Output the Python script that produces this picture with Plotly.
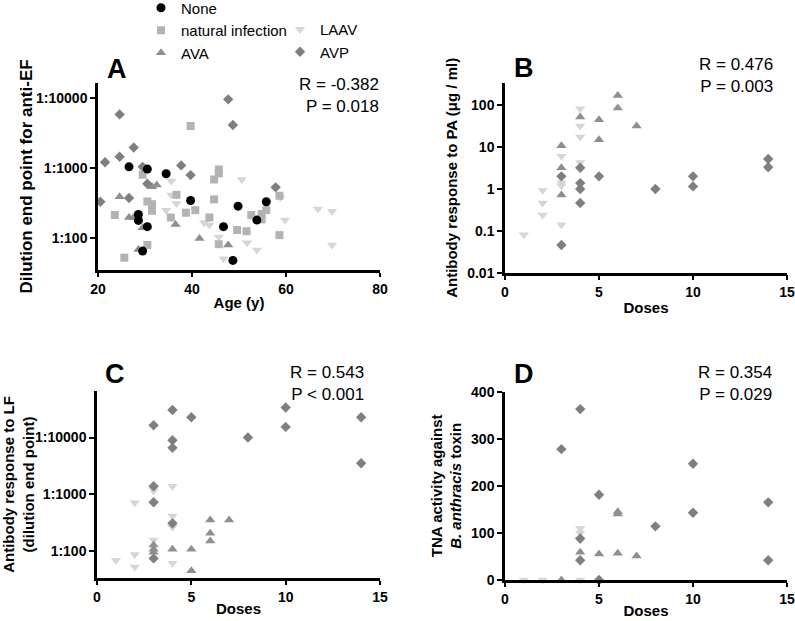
import plotly.graph_objects as go

# ---------------- DATA ----------------
groups = ["None", "natural infection", "AVA", "LAAV", "AVP"]

# Panel A: age (y) vs dilution end point for anti-EF
A_none_age = [26.6, 30.5, 34.5, 39.7, 49.8, 55.8, 28.6, 28.6, 30.5, 46.7, 53.8, 29.5, 48.7]
A_none_ef = [1030, 957, 820, 341, 283, 327, 215, 177, 144, 144, 179, 64.5, 47.5]
A_nat_age = [39.7, 45.7, 45.7, 44.7, 29.5, 36.7, 58.6, 44.7, 30.5, 31.5, 31.5, 40.7, 38.7,
             23.6, 35.5, 43.7, 52.6, 54.8, 54.8, 55.8, 49.6, 51.6, 58.6, 45.7, 30.5, 25.6]
A_nat_ef = [3940, 946, 830, 681, 794, 411, 398, 353, 330, 302, 243, 248, 228,
            211, 195, 195, 211, 218, 183, 248, 129, 124, 109, 81, 79, 52]
A_ava_age = [24.6, 31.5, 32.5, 26.6, 27.6, 29.5, 36.5, 41.6, 47.7, 28.6]
A_ava_ef = [385, 535, 565, 195, 195, 139, 155, 98, 79, 68]
A_laav_age = [35.6, 35.6, 36.7, 34.5, 42.6, 43.7, 45.7, 46.7, 50.6, 58.8, 59.8, 51.7, 53.8, 66.8, 69.8, 69.8]
A_laav_ef = [646, 407, 309, 248, 164, 152, 103, 50, 681, 377, 179, 85, 67, 257, 240, 79]
A_avp_age = [47.7, 24.6, 48.7, 27.6, 24.6, 21.5, 29.5, 37.7, 39.7, 30.5, 57.8, 26.6, 20.5]
A_avp_ef = [9470, 5780, 4070, 1950, 1435, 1200, 1030, 1080, 785, 590, 525, 369, 327]

# Panel B: doses vs antibody response to PA (ug/ml)
B_laav_dose = [1, 2, 2, 2, 3, 3, 3, 3, 4, 4, 4, 4]
B_laav_pa = [0.081, 0.92, 0.46, 0.24, 6.0, 1.4, 1.2, 0.14, 82, 32, 17.5, 4.3]
B_ava_dose = [3, 3, 3, 4, 5, 5, 6, 6, 7]
B_ava_pa = [10.8, 3.2, 0.72, 52, 45, 15, 170, 86, 32]
B_avp_dose = [3, 3, 4, 4, 4, 4, 5, 8, 10, 10, 14, 14]
B_avp_pa = [2.0, 0.046, 3.2, 1.38, 1.0, 0.46, 2.0, 1.0, 2.0, 1.15, 5.2, 3.3]

# Panel C: doses vs antibody response to LF (dilution end point)
C_laav_dose = [1, 2, 2, 2, 3, 4, 4, 4, 4, 3]
C_laav_lf = [69, 87, 52, 710, 156, 414, 262, 61, 1380, 1150]
C_ava_dose = [6, 7, 6, 6, 3, 3, 3, 4, 5, 5]
C_ava_lf = [352, 352, 205, 150, 128, 107, 95, 107, 107, 45]
C_avp_dose = [4, 3, 5, 8, 10, 10, 14, 14, 4, 4, 3, 3, 4, 3]
C_avp_lf = [30500, 16500, 22700, 10000, 33800, 15400, 22700, 3520, 8970, 6580, 1380, 723, 308, 74]

# Panel D: doses vs TNA activity
D_laav_dose = [4, 4, 4, 1, 2, 4]
D_laav_tna = [110, 100, 85, 0, 0, 0]
D_ava_dose = [6, 6, 4, 5, 6, 7, 3]
D_ava_tna = [140, 145, 59, 55, 57, 51, 0]
D_avp_dose = [4, 3, 5, 10, 10, 14, 14, 8, 4, 4, 5]
D_avp_tna = [363, 278, 181, 247, 143, 165, 42, 114, 42, 88, 0]

stats = {"A": "R = -0.382<br>P = 0.018", "B": "R = 0.476<br>P = 0.003",
         "C": "R = 0.543<br>P < 0.001", "D": "R = 0.354<br>P = 0.029"}
log_ticks = [100, 1000, 10000]
log_ticktext = ["1:100", "1:1000", "1:10000"]
pa_ticks = [0.01, 0.1, 1, 10, 100]
pa_ticktext = ["0.01", "0.1", "1", "10", "100"]

# ---------------- STYLE ----------------
style = {
    "None": dict(symbol="circle", color="#000000", size=9, rank=1),
    "natural infection": dict(symbol="square", color="#b3b3b3", size=8, rank=2),
    "AVA": dict(symbol="triangle-up", color="#8f8f8f", size=9, rank=3),
    "LAAV": dict(symbol="triangle-down", color="#d6d6d6", size=9, rank=1),
    "AVP": dict(symbol="diamond", color="#7f7f7f", size=8, rank=2),
}
FONT = "Arial, Liberation Sans, sans-serif"
W, H = 795, 621

fig = go.Figure()


def add(name, x, y, xa, ya, legend=None):
    s = style[name]
    fig.add_trace(go.Scatter(
        x=x, y=y, mode="markers", name=name, xaxis=xa, yaxis=ya,
        marker=dict(symbol=s["symbol"], color=s["color"], size=s["size"], line=dict(width=0)),
        showlegend=legend is not None, legend=legend or "legend", legendrank=s["rank"],
        cliponaxis=False,
    ))


# draw order: lighter first so darker symbols on top
add("LAAV", A_laav_age, A_laav_ef, "x", "y", "legend2")
add("natural infection", A_nat_age, A_nat_ef, "x", "y", "legend")
add("AVA", A_ava_age, A_ava_ef, "x", "y", "legend")
add("AVP", A_avp_age, A_avp_ef, "x", "y", "legend2")
add("None", A_none_age, A_none_ef, "x", "y", "legend")

add("LAAV", B_laav_dose, B_laav_pa, "x2", "y2")
add("AVA", B_ava_dose, B_ava_pa, "x2", "y2")
add("AVP", B_avp_dose, B_avp_pa, "x2", "y2")

add("LAAV", C_laav_dose, C_laav_lf, "x3", "y3")
add("AVA", C_ava_dose, C_ava_lf, "x3", "y3")
add("AVP", C_avp_dose, C_avp_lf, "x3", "y3")

add("LAAV", D_laav_dose, D_laav_tna, "x4", "y4")
add("AVA", D_ava_dose, D_ava_tna, "x4", "y4")
add("AVP", D_avp_dose, D_avp_tna, "x4", "y4")


def px_x(p):
    return p / W


def px_y(p):
    return 1 - p / H


axis_common = dict(showline=True, linecolor="black", linewidth=2.5, ticks="outside",
                   ticklen=5, tickwidth=2, tickcolor="black", showgrid=False, zeroline=False,
                   ticklabeloverflow="allow",
                   tickfont=dict(family=FONT, size=14, color="black", weight="bold"),
                   title_font=dict(family=FONT, size=15, color="black", weight="bold"))

fig.update_layout(
    width=W, height=H, margin=dict(l=0, r=0, t=0, b=0, autoexpand=False),
    plot_bgcolor="white", paper_bgcolor="white",
    font=dict(family=FONT, color="black"),
    xaxis=dict(axis_common, domain=[px_x(98), px_x(380)], range=[20, 80], dtick=20,
               anchor="y", ticklen=4, title=dict(text="Age (y)", standoff=2)),
    yaxis=dict(axis_common, domain=[px_y(270), px_y(83)], type="log", range=[1.54, 4.21],
               tickvals=log_ticks, ticktext=log_ticktext, anchor="x",
               title=dict(text="Dilution end point for anti-EF", standoff=0,
                          font=dict(size=17))),
    xaxis2=dict(axis_common, domain=[px_x(505), px_x(787)], range=[0, 15], dtick=5,
                anchor="y2", title=dict(text="Doses", standoff=4)),
    yaxis2=dict(axis_common, domain=[px_y(272.7), px_y(83)], type="log", range=[-2, 2.53],
                tickvals=pa_ticks, ticktext=pa_ticktext, anchor="x2",
                title=dict(text="Antibody response to PA (μg / ml)", standoff=6)),
    xaxis3=dict(axis_common, domain=[px_x(97), px_x(380)], range=[0, 15], dtick=5,
                anchor="y3", ticklen=4, title=dict(text="Doses", standoff=0)),
    yaxis3=dict(axis_common, domain=[px_y(578), px_y(391)], type="log", range=[1.524, 4.82],
                tickvals=log_ticks, ticktext=log_ticktext, anchor="x3",
                title=dict(text="Antibody response to LF<br>(dilution end point)", standoff=0)),
    xaxis4=dict(axis_common, domain=[px_x(505), px_x(787)], range=[0, 15], dtick=5,
                anchor="y4", ticklen=4, title=dict(text="Doses", standoff=0)),
    yaxis4=dict(axis_common, domain=[px_y(580), px_y(391.7)], range=[0, 400], dtick=100,
                anchor="x4",
                title=dict(text="TNA activity against<br><i>B. anthracis</i> toxin", standoff=6)),
    legend=dict(x=px_x(141), y=1.0137, xanchor="left", yanchor="top", bgcolor="rgba(0,0,0,0)",
                font=dict(family=FONT, size=15, color="black"), tracegroupgap=0,
                traceorder="normal"),
    legend2=dict(x=px_x(280), y=px_y(13), xanchor="left", yanchor="top", bgcolor="rgba(0,0,0,0)",
                 font=dict(family=FONT, size=15, color="black"), tracegroupgap=0,
                 traceorder="normal"),
)

# panel letters and stats
letters = [("A", 116.5, 68.5), ("B", 524, 68), ("C", 115, 374), ("D", 523.5, 374)]
for t, x, y in letters:
    fig.add_annotation(text=f"<b>{t}</b>", x=px_x(x), y=px_y(y), xref="paper", yref="paper",
                       xanchor="center", yanchor="middle", showarrow=False,
                       font=dict(family=FONT, size=27, color="black"))
stat_pos = [("A", 381, 95), ("B", 775, 75.5), ("C", 366, 383), ("D", 774, 383)]
for k, x, y in stat_pos:
    fig.add_annotation(text=stats[k], x=px_x(x), y=px_y(y), xref="paper", yref="paper",
                       xanchor="right", yanchor="middle", align="right", showarrow=False,
                       font=dict(family=FONT, size=17, color="black"))

fig.write_html("out.html", config={"displayModeBar": False},
               post_script="document.body.style.margin='0';")
